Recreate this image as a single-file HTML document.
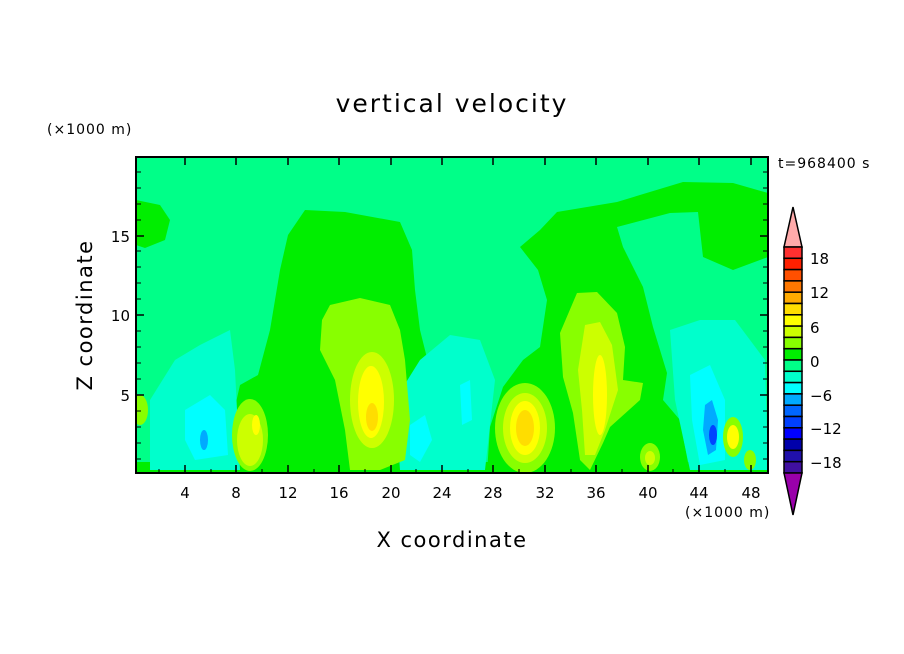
<!DOCTYPE html>
<html><head><meta charset="utf-8"><style>
html,body{margin:0;padding:0;background:#fff}
svg{display:block}
text{font-family:"DejaVu Sans","Liberation Sans",sans-serif;fill:#000}
</style></head><body>
<svg width="904" height="654" viewBox="0 0 904 654" xmlns="http://www.w3.org/2000/svg">
<defs><clipPath id="c"><rect x="136" y="157" width="632" height="316"/></clipPath></defs>
<g clip-path="url(#c)">
<rect x="136" y="157" width="632" height="316" fill="#00ff88"/>
<path d="M136,200 L160,205 L170,220 L165,240 L145,248 L136,245Z" fill="#00ee00"/>
<path d="M305,210 L345,212 L400,222 L412,250 L415,290 L420,330 L430,370 L455,385 L470,375 L480,400 L470,473 L225,473 L232,420 L240,385 L258,375 L270,330 L280,270 L288,235Z" fill="#00ee00"/>
<path d="M520,247 L540,230 L557,212 L617,202 L683,182 L733,183 L768,193 L768,257 L733,270 L703,257 L698,212 L670,213 L617,227 L623,247 L643,287 L653,327 L667,373 L663,400 L680,420 L690,473 L487,473 L490,427 L503,387 L523,360 L540,347 L547,300 L538,270Z" fill="#00ee00"/>
<rect x="136" y="462" width="632" height="11" fill="#00ee00"/>
<path d="M150,400 L175,360 L200,345 L230,330 L235,370 L240,470 L150,470Z" fill="#00ffcc"/>
<path d="M395,400 L420,360 L450,335 L480,340 L495,380 L485,470 L400,470Z" fill="#00ffcc"/>
<path d="M670,330 L700,320 L735,320 L750,340 L765,360 L768,470 L690,470 L675,400Z" fill="#00ffcc"/>
<path d="M455,385 L470,375 L480,400 L470,450 L452,440Z" fill="#00ffcc"/>
<path d="M185,410 L210,395 L225,410 L228,455 L195,460 L185,440Z" fill="#00ffff"/>
<path d="M410,425 L425,415 L432,440 L420,462 L410,455Z" fill="#00ffff"/>
<path d="M690,375 L710,365 L725,400 L725,460 L700,465 L692,420Z" fill="#00ffff"/>
<path d="M460,385 L470,380 L472,420 L462,425Z" fill="#00ffff"/>
<ellipse cx="204" cy="440" rx="4" ry="10" fill="#00aaff"/>
<path d="M705,405 L712,400 L718,420 L716,450 L708,455 L703,430Z" fill="#00aaff"/>
<ellipse cx="713" cy="435" rx="4" ry="10" fill="#0044ff"/>
<path d="M330,305 L360,298 L390,305 L400,330 L405,360 L410,420 L405,460 L380,470 L350,470 L345,430 L335,380 L320,350 L322,320Z" fill="#88ff00"/>
<ellipse cx="372" cy="400" rx="22" ry="48" fill="#ccff00"/>
<ellipse cx="371" cy="402" rx="13" ry="36" fill="#ffff00"/>
<ellipse cx="372" cy="417" rx="6" ry="14" fill="#ffdd00"/>
<ellipse cx="250" cy="435" rx="18" ry="36" fill="#88ff00"/>
<ellipse cx="250" cy="440" rx="13" ry="26" fill="#ccff00"/>
<ellipse cx="256" cy="425" rx="4" ry="10" fill="#ffff00"/>
<path d="M577,293 L597,292 L617,313 L625,347 L623,380 L643,383 L640,400 L610,427 L603,443 L590,470 L580,460 L573,413 L563,377 L560,333Z" fill="#88ff00"/>
<path d="M585,325 L600,322 L612,345 L618,390 L605,430 L595,455 L585,455 L582,410 L578,370Z" fill="#ccff00"/>
<ellipse cx="600" cy="395" rx="7" ry="40" fill="#ffff00"/>
<ellipse cx="525" cy="428" rx="30" ry="45" fill="#88ff00"/>
<ellipse cx="525" cy="428" rx="22" ry="35" fill="#ccff00"/>
<ellipse cx="525" cy="428" rx="15" ry="27" fill="#ffff00"/>
<ellipse cx="525" cy="428" rx="9" ry="18" fill="#ffdd00"/>
<ellipse cx="650" cy="457" rx="10" ry="14" fill="#88ff00"/>
<ellipse cx="650" cy="458" rx="5" ry="7" fill="#ccff00"/>
<ellipse cx="733" cy="437" rx="10" ry="20" fill="#88ff00"/>
<ellipse cx="733" cy="437" rx="6" ry="12" fill="#ffff00"/>
<ellipse cx="750" cy="460" rx="6" ry="10" fill="#88ff00"/>
<ellipse cx="140" cy="410" rx="8" ry="15" fill="#88ff00"/>
</g>
<rect x="136" y="157" width="632" height="316" fill="none" stroke="#000" stroke-width="2"/>
<g stroke="#000" stroke-width="1.5">
<path d="M185,473v-8M236,473v-8M288,473v-8M339,473v-8M391,473v-8M442,473v-8M493,473v-8M545,473v-8M596,473v-8M648,473v-8M699,473v-8M751,473v-8"/>
<path d="M185,157v8M236,157v8M288,157v8M339,157v8M391,157v8M442,157v8M493,157v8M545,157v8M596,157v8M648,157v8M699,157v8M751,157v8"/>
<path d="M136,395h8M136,315h8M136,236h8M768,395h-8M768,315h-8M768,236h-8"/>
</g>
<g stroke="#000" stroke-width="1">
<path d="M159,473v-4M211,473v-4M262,473v-4M314,473v-4M365,473v-4M416,473v-4M468,473v-4M519,473v-4M571,473v-4M622,473v-4M673,473v-4M725,473v-4"/>
<path d="M136,459h5M136,443h5M136,427h5M136,411h5M136,379h5M136,363h5M136,347h5M136,331h5M136,299h5M136,283h5M136,267h5M136,251h5M136,220h5M136,204h5M136,188h5M136,172h5"/>
<path d="M768,459h-5M768,443h-5M768,427h-5M768,411h-5M768,379h-5M768,363h-5M768,347h-5M768,331h-5M768,299h-5M768,283h-5M768,267h-5M768,251h-5M768,220h-5M768,204h-5M768,188h-5M768,172h-5"/>
</g>
<g font-size="15" text-anchor="middle">
<text x="185" y="498">4</text><text x="236" y="498">8</text><text x="288" y="498">12</text><text x="339" y="498">16</text><text x="391" y="498">20</text><text x="442" y="498">24</text><text x="493" y="498">28</text><text x="545" y="498">32</text><text x="596" y="498">36</text><text x="648" y="498">40</text><text x="699" y="498">44</text><text x="751" y="498">48</text>
</g>
<g font-size="15" text-anchor="end">
<text x="130" y="401">5</text><text x="130" y="321">10</text><text x="130" y="242">15</text>
</g>
<text x="452" y="112" font-size="25" text-anchor="middle" letter-spacing="2">vertical velocity</text>
<text x="47" y="134" font-size="14" letter-spacing="1">(×1000 m)</text>
<text x="685" y="517" font-size="14" letter-spacing="1">(×1000 m)</text>
<text x="778" y="168" font-size="14" letter-spacing="1">t=968400 s</text>
<text x="452" y="547" font-size="21" text-anchor="middle" letter-spacing="1.5">X coordinate</text>
<text transform="translate(92,315) rotate(-90)" font-size="21" text-anchor="middle" letter-spacing="1.5">Z coordinate</text>
<g stroke="#000" stroke-width="1.5">
<path d="M793,207 L802,247 L784,247Z" fill="#ffaaaa"/>
<rect x="784" y="247.0" width="18" height="11.3" fill="#ff3030"/>
<rect x="784" y="258.3" width="18" height="11.3" fill="#ff2000"/>
<rect x="784" y="269.6" width="18" height="11.3" fill="#ff5000"/>
<rect x="784" y="280.9" width="18" height="11.3" fill="#ff7800"/>
<rect x="784" y="292.2" width="18" height="11.3" fill="#ffaa00"/>
<rect x="784" y="303.5" width="18" height="11.3" fill="#ffdd00"/>
<rect x="784" y="314.8" width="18" height="11.3" fill="#ffff00"/>
<rect x="784" y="326.1" width="18" height="11.3" fill="#ccff00"/>
<rect x="784" y="337.4" width="18" height="11.3" fill="#88ff00"/>
<rect x="784" y="348.7" width="18" height="11.3" fill="#00ee00"/>
<rect x="784" y="360.0" width="18" height="11.3" fill="#00ff88"/>
<rect x="784" y="371.3" width="18" height="11.3" fill="#00ffcc"/>
<rect x="784" y="382.6" width="18" height="11.3" fill="#00ffff"/>
<rect x="784" y="393.9" width="18" height="11.3" fill="#00aaff"/>
<rect x="784" y="405.2" width="18" height="11.3" fill="#0066ff"/>
<rect x="784" y="416.5" width="18" height="11.3" fill="#0040ff"/>
<rect x="784" y="427.8" width="18" height="11.3" fill="#0000ff"/>
<rect x="784" y="439.1" width="18" height="11.3" fill="#0000aa"/>
<rect x="784" y="450.4" width="18" height="11.3" fill="#2010aa"/>
<rect x="784" y="461.7" width="18" height="11.3" fill="#4010a0"/>
<path d="M784,473 L802,473 L793,515Z" fill="#9900aa"/>
</g>
<g font-size="15">
<text x="810" y="264">18</text><text x="810" y="298">12</text><text x="810" y="333">6</text><text x="810" y="367">0</text><text x="810" y="401">−6</text><text x="810" y="434">−12</text><text x="810" y="468">−18</text>
</g>
</svg>
</body></html>
